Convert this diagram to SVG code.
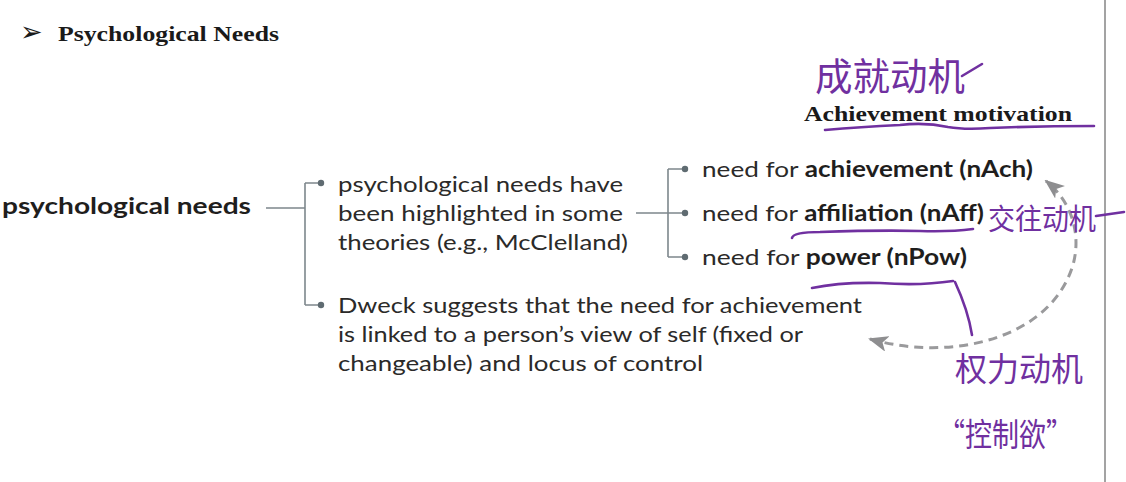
<svg xmlns="http://www.w3.org/2000/svg" width="1126" height="482" viewBox="0 0 1126 482">
<defs>
<style>
.t{font-family:Lato,"Noto Sans","Liberation Sans",sans-serif;font-size:22px;fill:#2b2a29;}
.b{font-weight:bold;fill:#1f1e1d;}
.ser{font-family:"Liberation Serif","Times New Roman",serif;font-weight:bold;font-size:22px;fill:#1a1a1a;}
.conn{fill:none;stroke:#7d878c;stroke-width:1.6;}
.dot{fill:#5f6b71;}
.dash{fill:none;stroke:#9a9a9c;stroke-width:3;stroke-dasharray:9 6;}
.ink{fill:none;stroke:#7030a0;stroke-width:2.6;stroke-linecap:round;stroke-linejoin:round;}
.hw{font-family:"Noto Sans CJK SC","Noto Sans CJK JP",sans-serif;fill:#7030a0;}
</style>
<marker id="ah" viewBox="0 0 20 16" refX="18" refY="8" markerWidth="20" markerHeight="16" markerUnits="userSpaceOnUse" orient="auto-start-reverse">
<path d="M0 0 L20 8 L0 16 L5 8 Z" fill="#8e8e90"/>
</marker>
</defs>
<rect width="1126" height="482" fill="#ffffff"/>
<line x1="1105" y1="0" x2="1105" y2="482" stroke="#a3a3a3" stroke-width="2"/>

<g id="title">
<text x="20" y="41" font-family="DejaVu Sans,sans-serif" font-size="27" fill="#1a1a1a">➢</text>
<text class="ser" x="58" y="41" textLength="221" lengthAdjust="spacingAndGlyphs">Psychological Needs</text>
</g>

<g id="connectors">
<path class="conn" d="M266 208 H305 M305 183 V305 M305 183 H318 M305 305 H318"/>
<circle class="dot" cx="321" cy="183" r="3.2"/>
<circle class="dot" cx="321" cy="305" r="3.2"/>
<path class="conn" d="M636 213 H668 M668 169 V257 M668 169 H682 M668 213 H682 M668 257 H682"/>
<circle class="dot" cx="685" cy="169" r="3.2"/>
<circle class="dot" cx="685" cy="213" r="3.2"/>
<circle class="dot" cx="685" cy="257" r="3.2"/>
<path class="dash" d="M870 339 C950 362 1050 340 1073 265 C1082 232 1070 200 1046 181" marker-start="url(#ah)" marker-end="url(#ah)"/>
</g>

<g id="root">
<text class="t b" x="2" y="214" font-size="24" textLength="249" lengthAdjust="spacingAndGlyphs">psychological needs</text>
</g>

<g id="theories">
<text class="t" x="338" y="192" textLength="285" lengthAdjust="spacingAndGlyphs">psychological needs have</text>
<text class="t" x="338" y="221" textLength="285" lengthAdjust="spacingAndGlyphs">been highlighted in some</text>
<text class="t" x="338" y="250" textLength="290" lengthAdjust="spacingAndGlyphs">theories (e.g., McClelland)</text>
</g>

<g id="nAch">
<text class="t" x="702" y="177" textLength="331" lengthAdjust="spacingAndGlyphs">need for <tspan class="b">achievement (nAch)</tspan></text>
</g>
<g id="nAff">
<text class="t" x="702" y="221" textLength="282" lengthAdjust="spacingAndGlyphs">need for <tspan class="b">affiliation (nAff)</tspan></text>
</g>
<g id="nPow">
<text class="t" x="702" y="265" textLength="265" lengthAdjust="spacingAndGlyphs">need for <tspan class="b">power (nPow)</tspan></text>
</g>

<g id="dweck">
<text class="t" x="338" y="313" textLength="524" lengthAdjust="spacingAndGlyphs">Dweck suggests that the need for achievement</text>
<text class="t" x="338" y="342" textLength="465" lengthAdjust="spacingAndGlyphs">is linked to a person’s view of self (fixed or</text>
<text class="t" x="338" y="371" textLength="365" lengthAdjust="spacingAndGlyphs">changeable) and locus of control</text>
</g>

<g id="achievement-motivation">
<text class="hw" x="815" y="90" font-size="38" textLength="150" lengthAdjust="spacingAndGlyphs">成就动机</text>
<path class="ink" d="M962 76 Q972 70 982 64"/>
<text class="ser" x="804" y="121" font-size="23" textLength="268" lengthAdjust="spacingAndGlyphs">Achievement motivation</text>
<path class="ink" d="M825 130 Q860 127 900 125 Q925 122 948 127 Q965 130 990 128 Q1040 126 1094 126"/>
</g>

<g id="affiliation-note">
<path class="ink" d="M792 238 Q793 232 820 232 Q880 230 920 231 Q950 232 973 229"/>
<text class="hw" x="988" y="230" font-size="29" textLength="108" lengthAdjust="spacingAndGlyphs">交往动机</text>
<path class="ink" d="M1096 216 Q1110 214 1124 212"/>
</g>

<g id="power-note">
<path class="ink" d="M812 288 Q840 282 880 283 Q920 286 953 281 M955 282 Q968 310 972 335"/>
<text class="hw" x="955" y="381" font-size="33" textLength="128" lengthAdjust="spacingAndGlyphs">权力动机</text>
<text class="hw" x="938" y="446" font-size="32" textLength="135" lengthAdjust="spacingAndGlyphs">“控制欲”</text>
</g>
</svg>
